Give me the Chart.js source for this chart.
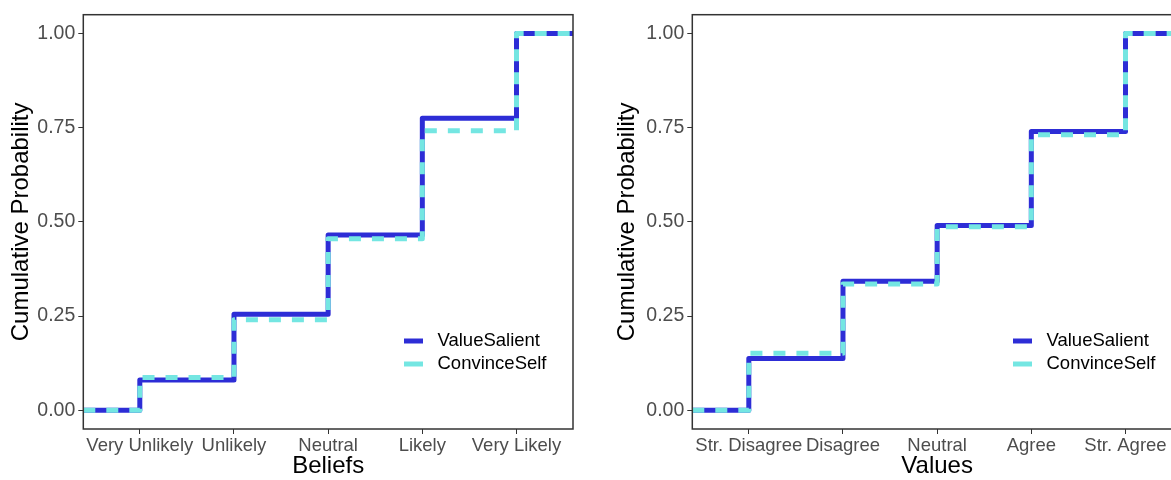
<!DOCTYPE html>
<html>
<head>
<meta charset="utf-8">
<script src="https://cdn.jsdelivr.net/npm/chart.js@4.4.1/dist/chart.umd.min.js"></script>
<style>
  html, body { margin: 0; padding: 0; background: #fff; overflow: hidden; }
  body { width: 1171px; height: 480px; position: relative; }
  .panel { position: absolute; top: 0; width: 590px; height: 480px; }
  #left { left: 0; }
  #right { left: 609px; }
</style>
</head>
<body>
<div class="panel" id="left"><canvas id="beliefsChart"></canvas></div>
<div class="panel" id="right"><canvas id="valuesChart"></canvas></div>
<script>
// series
const seriesNames = ["ValueSalient", "ConvinceSelf"];
const seriesColors = ["#2d2dd6", "#74e6e2"];

// left panel: cumulative probability at each answer
const beliefCategories = ["Very Unlikely", "Unlikely", "Neutral", "Likely", "Very Likely"];
const beliefsValueSalient = [0.08, 0.255, 0.465, 0.775, 1.00];
const beliefsConvinceSelf = [0.087, 0.24, 0.455, 0.742, 1.00];

// right panel
const valueCategories = ["Str. Disagree", "Disagree", "Neutral", "Agree", "Str. Agree"];
const valuesValueSalient = [0.137, 0.342, 0.49, 0.74, 1.00];
const valuesConvinceSelf = [0.151, 0.335, 0.487, 0.731, 1.00];

const yTicks = [0, 0.25, 0.5, 0.75, 1];
const xMin = 0.4, xMax = 5.6;

const FONT = "'Liberation Sans', Arial, sans-serif";
Chart.defaults.font.family = FONT;

// ecdf step: pad with the axis ends like stat_ecdf(pad = TRUE)
function stepPoints(vals) {
  const pts = [{ x: xMin, y: 0 }];
  vals.forEach((v, i) => pts.push({ x: i + 1, y: v }));
  pts.push({ x: xMax, y: vals[vals.length - 1] });
  return pts;
}

// legend inside the panel + panel border
const panelDecor = {
  id: "panelDecor",
  afterDatasetsDraw(chart) {
    const { ctx, chartArea: a } = chart;
    ctx.save();
    ctx.lineWidth = 5;
    ctx.lineCap = "butt";
    ctx.font = "18.5px " + FONT;
    ctx.textBaseline = "middle";
    ctx.fillStyle = "#000";
    chart.data.datasets.forEach((ds, i) => {
      const y = a.bottom - 88 + i * 23;
      ctx.strokeStyle = ds.borderColor;
      ctx.beginPath();
      ctx.moveTo(a.right - 169, y);
      ctx.lineTo(a.right - 150, y);
      ctx.stroke();
      ctx.fillText(ds.label, a.right - 135.5, y);
    });
    ctx.strokeStyle = "#333";
    ctx.lineWidth = 1.5;
    ctx.strokeRect(a.left, a.top, a.right - a.left, a.bottom - a.top);
    ctx.restore();
  }
};

function makeChart(id, categories, valueSalient, convinceSelf, xTitle, yTitlePad) {
  return new Chart(document.getElementById(id), {
    type: "line",
    data: {
      datasets: [
        {
          label: seriesNames[0],
          data: stepPoints(valueSalient),
          borderColor: seriesColors[0],
          borderWidth: 5,
          stepped: true,
          order: 1
        },
        {
          label: seriesNames[1],
          data: stepPoints(convinceSelf),
          borderColor: seriesColors[1],
          borderWidth: 5,
          borderDash: [12, 11],
          stepped: true,
          order: 0
        }
      ]
    },
    options: {
      responsive: true,
      maintainAspectRatio: false,
      animation: false,
      elements: {
        point: { radius: 0 },
        line: { borderCapStyle: "butt", borderJoinStyle: "round" }
      },
      layout: { padding: { top: 14, right: 17, left: 0, bottom: 0 } },
      plugins: { legend: { display: false }, tooltip: { enabled: false } },
      scales: {
        x: {
          type: "linear",
          min: xMin,
          max: xMax,
          afterBuildTicks: s => { s.ticks = categories.map((c, i) => ({ value: i + 1 })); },
          afterFit: s => { s.height = 51; },
          grid: { drawOnChartArea: false, tickLength: 5, color: "#333" },
          border: { display: false },
          ticks: {
            autoSkip: false,
            maxRotation: 0,
            minRotation: 0,
            padding: 1,
            color: "#4d4d4d",
            font: { size: 18.5 },
            callback: v => categories[Math.round(v) - 1]
          },
          title: {
            display: true,
            text: xTitle,
            color: "#000",
            font: { size: 24, lineHeight: 1.1 },
            padding: { top: 0, bottom: 0 }
          }
        },
        y: {
          min: -0.05,
          max: 1.05,
          afterBuildTicks: s => { s.ticks = yTicks.map(v => ({ value: v })); },
          afterFit: s => { s.width = 83.3; },
          grid: { drawOnChartArea: false, tickLength: 5, color: "#333" },
          border: { display: false },
          ticks: {
            padding: 3,
            color: "#4d4d4d",
            font: { size: 19.5 },
            callback: v => Number(v).toFixed(2)
          },
          title: {
            display: true,
            text: "Cumulative Probability",
            color: "#000",
            font: { size: 24, lineHeight: 1.2 },
            padding: { top: yTitlePad, bottom: 0 }
          }
        }
      }
    },
    plugins: [panelDecor]
  });
}

makeChart("beliefsChart", beliefCategories, beliefsValueSalient, beliefsConvinceSelf, "Beliefs", 7);
makeChart("valuesChart", valueCategories, valuesValueSalient, valuesConvinceSelf, "Values", 3.5);
</script>
</body>
</html>
